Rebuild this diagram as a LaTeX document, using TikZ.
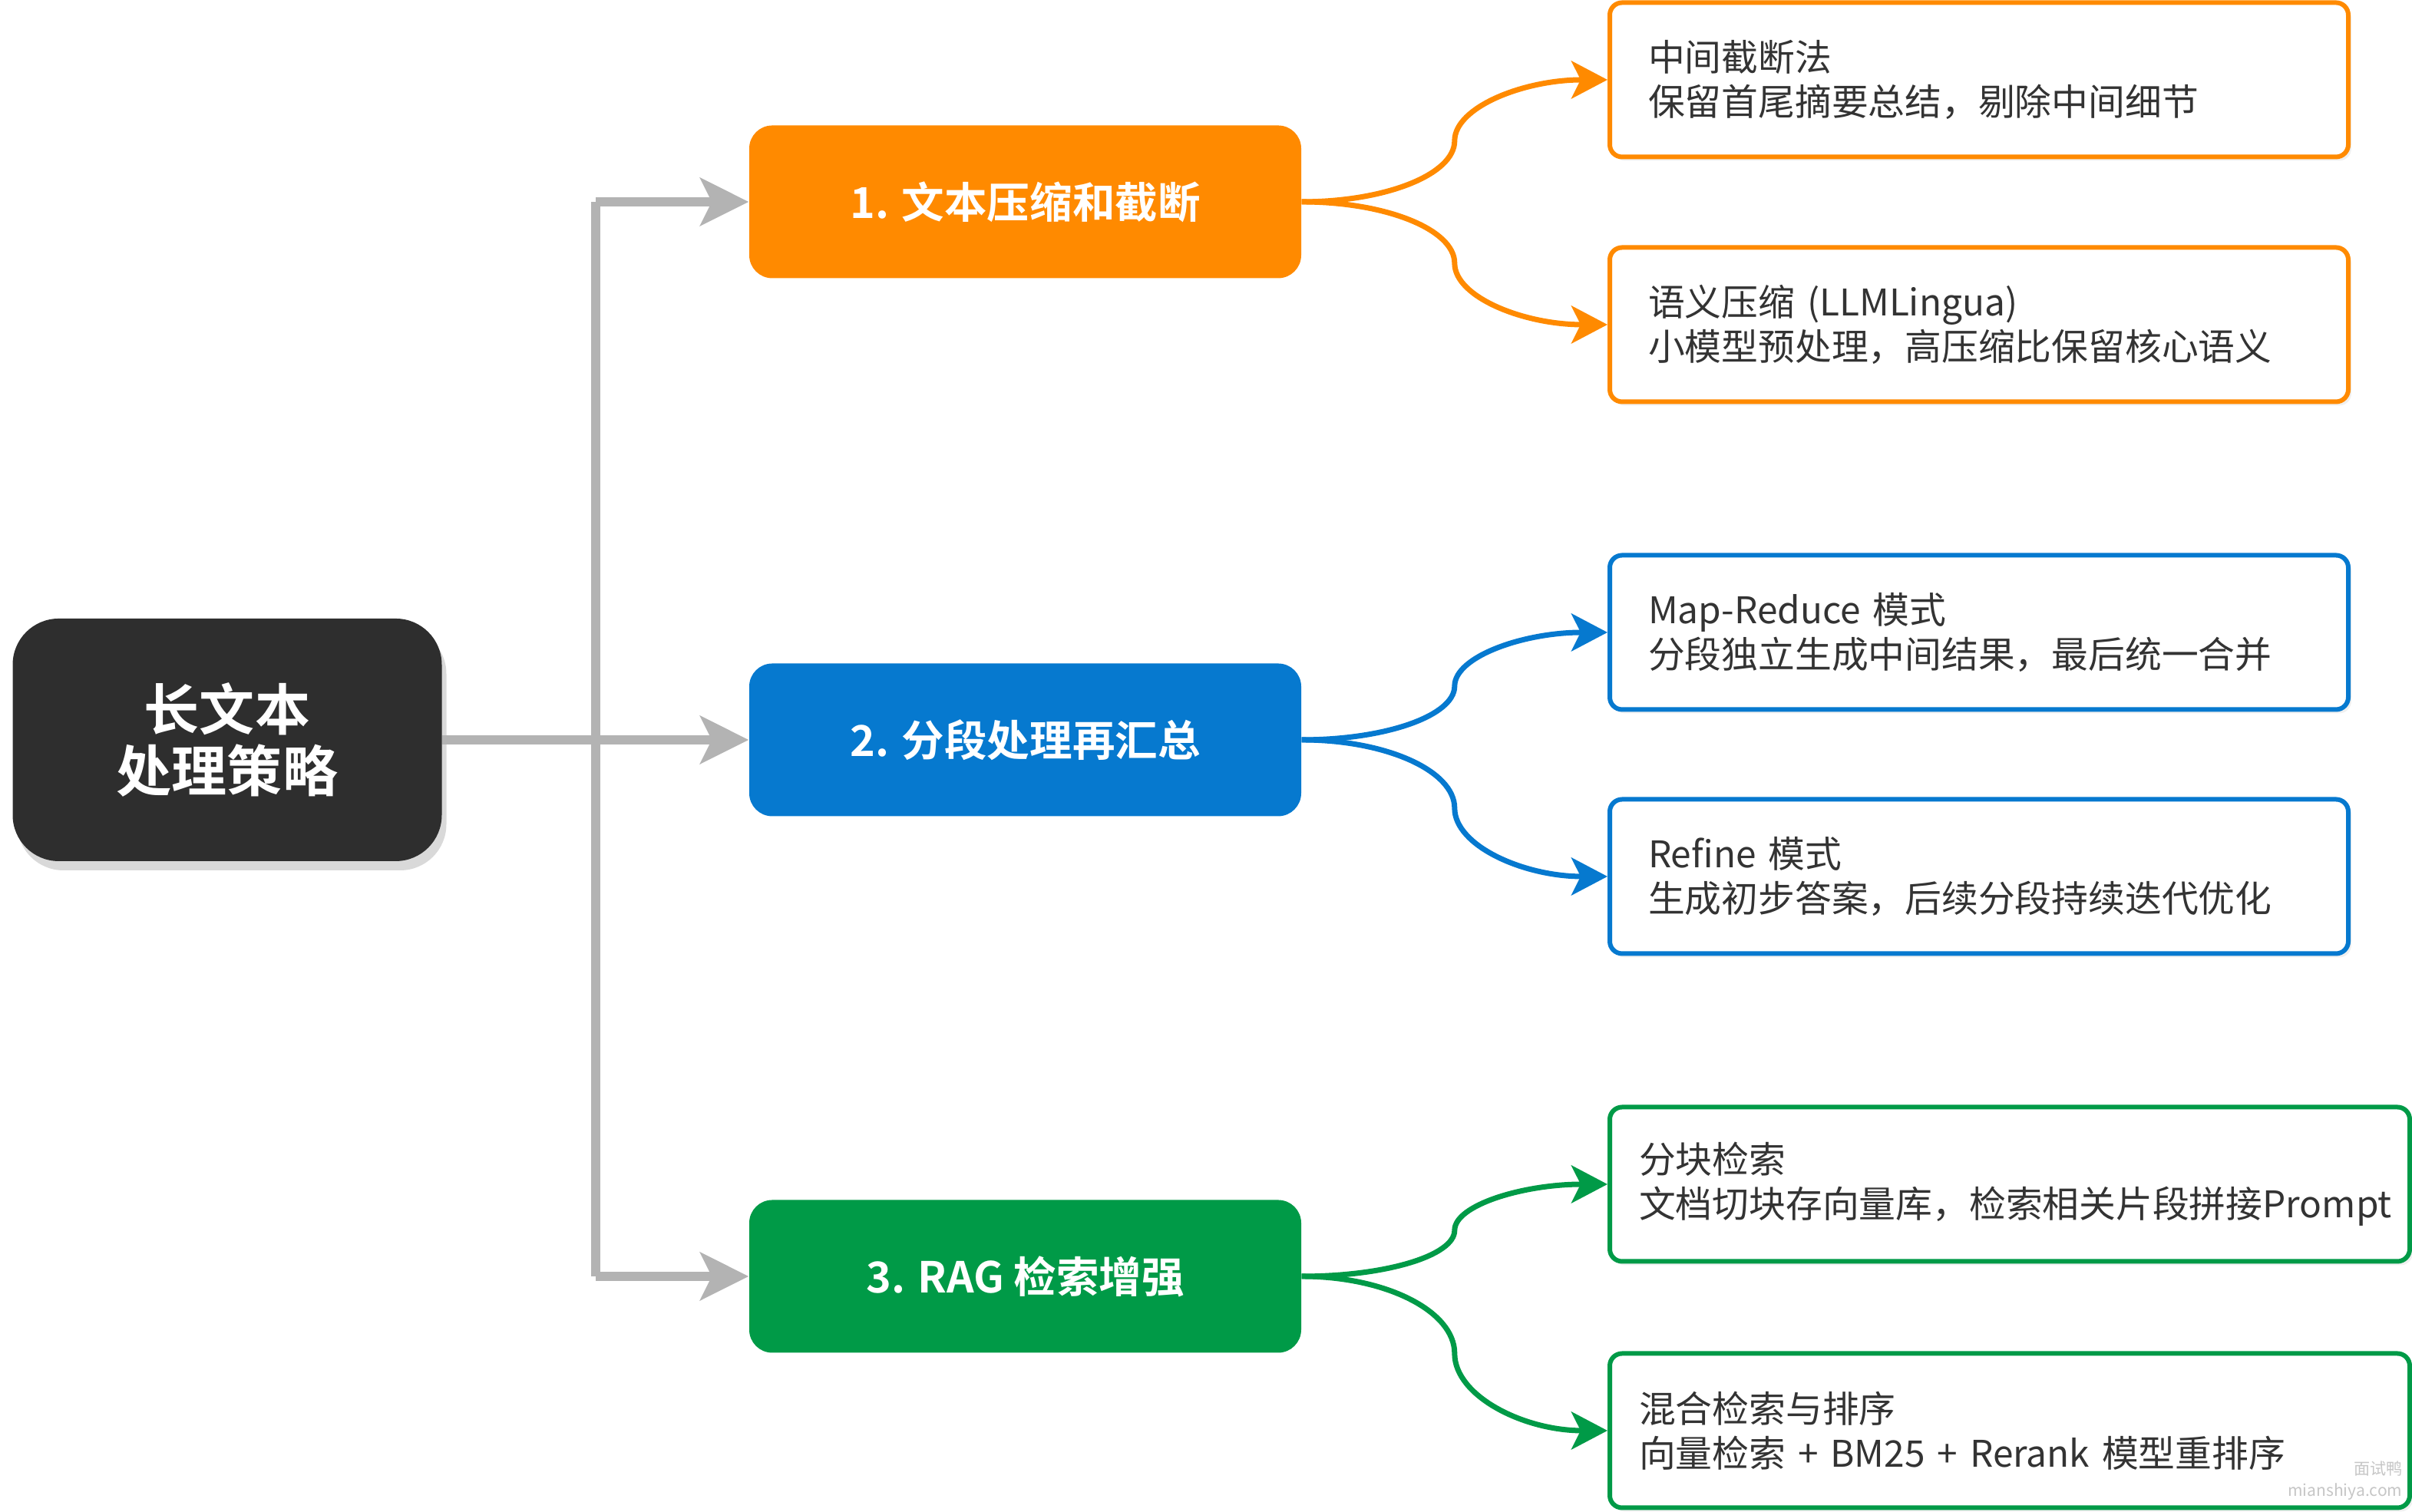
\documentclass[tikz,border=0pt]{standalone}
\usepackage{fontspec}
\setmainfont{Noto Sans CJK SC}[BoldFont={Noto Sans CJK SC Bold}]
\usepackage{xcolor}
\usetikzlibrary{arrows.meta, shadows, math, calc}

\definecolor{cOrange}{HTML}{FF8A00}
\definecolor{cBlue}{HTML}{0679CF}
\definecolor{cGreen}{HTML}{009A47}
\definecolor{cRoot}{HTML}{2E2E2E}
\definecolor{cLine}{HTML}{B3B3B3}
\definecolor{cText}{HTML}{333333}

\tikzset{
rootbox/.style={rectangle, rounded corners=0.6cm, fill=cRoot, text=white,
  font=\bfseries\fontsize{20.5}{23}\selectfont, align=center,
  minimum width=5.59cm, minimum height=3.16cm,
  drop shadow={opacity=0.3, shadow xshift=0.06cm, shadow yshift=-0.12cm}},
catbox/.style={rectangle, rounded corners=0.3cm, fill=#1, text=white,
  font=\bfseries\fontsize{15.8}{18}\selectfont,
  minimum width=7.19cm, minimum height=1.99cm},
leafbox/.style={rectangle, rounded corners=0.16cm, draw=#1, line width=0.06cm,
  fill=white, text=cText, font=\fontsize{13.6}{16.5}\selectfont, align=left,
  text width=8.62cm, inner xsep=0.5cm, minimum height=2.01cm, anchor=west,
  drop shadow={opacity=0.12, shadow xshift=0.04cm, shadow yshift=-0.05cm}},
stem/.style={cLine, line width=0.12cm},
stemarrow/.style={stem, -{Stealth[length=0.63cm, width=0.62cm, inset=0.15cm]}},
twig/.style={draw=#1, line width=0.07cm, -{Stealth[length=0.47cm, width=0.49cm, inset=0.12cm]}},
mark text/.style={text=gray!45, font=\fontsize{6}{7}\selectfont, anchor=east, inner sep=0pt}
}

\begin{document}
\begin{tikzpicture}
\tikzmath{
\W=31.42;
\H=19.70;
\xtrunk=7.76;
\xcat=13.355;
\xleaf=20.94;
}
\useasboundingbox (0,0) rectangle (\W,\H);

\node[rootbox] (root) at (2.96,10.06) {长文本\\处理策略};

\node[catbox=cOrange] (cat1) at (\xcat,17.07) {1. 文本压缩和截断};
\node[catbox=cBlue] (cat2) at (\xcat,10.06) {2. 分段处理再汇总};
\node[catbox=cGreen] (cat3) at (\xcat,3.07) {3. RAG 检索增强};

\node[leafbox=cOrange] (leaf1) at (\xleaf,18.66) {中间截断法\\保留首尾摘要总结，剔除中间细节};
\node[leafbox=cOrange] (leaf2) at (\xleaf,15.47) {语义压缩 (LLMLingua)\\小模型预处理，高压缩比保留核心语义};
\node[leafbox=cBlue] (leaf3) at (\xleaf,11.46) {Map-Reduce 模式\\分段独立生成中间结果，最后统一合并};
\node[leafbox=cBlue] (leaf4) at (\xleaf,8.28) {Refine 模式\\生成初步答案，后续分段持续迭代优化};
\node[leafbox=cGreen, text width=9.66cm, inner xsep=0.38cm] (leaf5) at (\xleaf,4.27) {分块检索\\文档切块存向量库，检索相关片段拼接Prompt};
\node[leafbox=cGreen, text width=9.66cm, inner xsep=0.38cm] (leaf6) at (\xleaf,1.06) {混合检索与排序\\向量检索 + BM25 + Rerank 模型重排序};

% gray trunk
\coordinate (trunk) at (\xtrunk,0);
\draw[stem] (root.east) -- (root.east -| trunk);
\draw[stem] (cat1.west -| trunk) -- (cat3.west -| trunk);
\foreach \c in {cat1,cat2,cat3}{
\draw[stemarrow] (\c.west -| trunk) -- (\c.west);
}

% curved twigs
\foreach \c/\l/\col in {cat1/leaf1/cOrange, cat1/leaf2/cOrange, cat2/leaf3/cBlue,
                        cat2/leaf4/cBlue, cat3/leaf5/cGreen, cat3/leaf6/cGreen}{
\coordinate (m) at ($(\c.east)!0.5!(\l.west)$);
\draw[twig=\col] (\c.east)
  .. controls ($(\c.east)!0.55!(m |- \c.east)$) and ($(m)!0.55!(m |- \c.east)$) .. (m)
  .. controls ($(m)!0.55!(m |- \l.west)$) and ($(\l.west)!0.55!(m |- \l.west)$) .. (\l.west);
}

\node[mark text] (mark) at (31.30,0.56) {面试鸭};
\node[mark text] (markurl) at (31.30,0.26) {mianshiya.com};

\end{tikzpicture}
\end{document}
